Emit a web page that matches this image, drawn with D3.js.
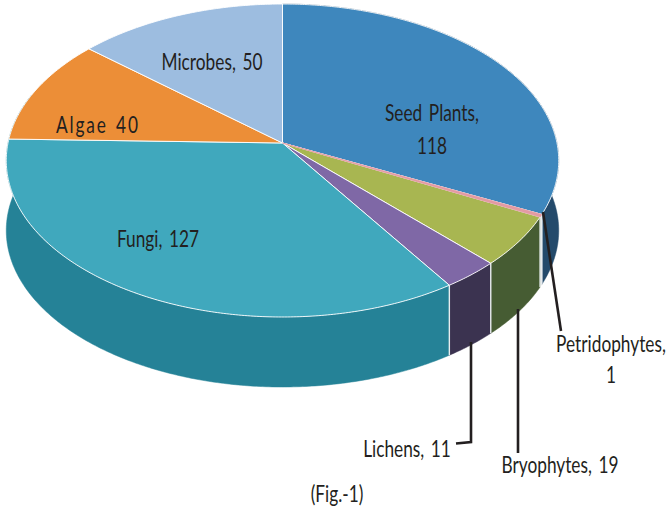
<!DOCTYPE html>
<html><head><meta charset="utf-8">
<script src="https://cdn.jsdelivr.net/npm/d3@7/dist/d3.min.js"></script>
<style>html,body{margin:0;padding:0;background:#fff}svg{display:block}
text{font-family:Lato,"Noto Sans",sans-serif;fill:#231f20;text-anchor:middle;word-spacing:3px}</style>
</head><body><div id="c"></div>
<script>
const categories = ["Seed Plants","Petridophytes","Bryophytes","Lichens","Fungi","Algae","Microbes"];
const values = [118,1,19,11,127,40,50];
const topColors = ["#3e87bd","#e39aa3","#a8b651","#7f68a6","#40a8bd","#ec8e37","#9dbde0"];
const wallColors = ["#244a6b","#e6e6e6","#465c33","#3b3350","#258297"];
const labelLines = [["Seed Plants,","118"],["Petridophytes,","1"],["Bryophytes, 19"],["Lichens, 11"],["Fungi, 127"],["Algae 40"],["Microbes, 50"]];
const caption = "(Fig.-1)";

const W=667,H=512;
const svg=d3.select("#c").append("svg").attr("width",W).attr("height",H);
const arcs=d3.pie().sort(null).value(d=>d)(values);

const cx=282.5, k=274.5, c=-35/313, a=174*(1+c);
function project(angle, cy, shrink){
  const u=Math.sin(angle), v=-Math.cos(angle), d=1+c*v;
  return [cx+k*shrink*u/d, cy+a*shrink*v/d];
}
function arcPts(s,e,cy,shrink){
  const n=Math.max(2,Math.ceil((e-s)/0.01));
  return d3.range(n+1).map(i=>project(s+(e-s)*i/n,cy,shrink));
}
const line=d3.line();
const topY=143, botY=213, botShrink=1;

const walls=svg.append("g");
const wrap=0.3;
arcs.slice(0,wallColors.length).forEach((d,i)=>{
  const end=d.endAngle+(i===wallColors.length-1?wrap:0);
  const t=arcPts(d.startAngle,end,topY,1);
  const b=arcPts(d.startAngle,end,botY,botShrink).reverse();
  walls.append("path").attr("d",line(t.concat(b))+"Z")
    .attr("fill",wallColors[i]).attr("stroke",wallColors[i]).attr("stroke-width",0.5);
});
arcs.forEach(d=>{
  const s=d.startAngle;
  if(s>1.5 && s<Math.PI*1.4){
    walls.append("path").attr("d",line([project(s,topY,1),project(s,botY,botShrink)]))
      .attr("stroke","#e9edef").attr("stroke-width",1.4).attr("fill","none");
  }
});
const face=svg.append("g");
arcs.forEach((d,i)=>{
  const pts=[[cx,topY]].concat(arcPts(d.startAngle,d.endAngle,topY,1));
  face.append("path").attr("d",line(pts)+"Z").attr("fill",topColors[i])
    .attr("stroke","#fff").attr("stroke-width",0.9).attr("stroke-linejoin","round");
});
// the thinnest slice goes on top so the neighbouring outlines do not swallow it
{
  const d=arcs[1];
  const pts=[[cx,topY]].concat(arcPts(d.startAngle,d.endAngle,topY,1));
  face.append("path").attr("d",line(pts)+"Z").attr("fill",topColors[1])
    .attr("stroke",topColors[1]).attr("stroke-width",0.8);
}
const leaders=svg.append("g").attr("fill","none").attr("stroke","#231f20").attr("stroke-width",2.6);
leaders.append("path").attr("d","M543,212L561,331");
leaders.append("path").attr("d","M518,309V453");
leaders.append("path").attr("d","M471,342V442L456,443.5");

const sx=0.72, fs=24;
function label(lines,x,y,dy,len){
  lines.forEach((s,i)=>{
    const t=svg.append("text").attr("transform",`translate(${x},${y+i*dy}) scale(${sx},1)`)
      .attr("font-size",fs).text(s);
    if(len) t.attr("textLength",len/sx).attr("lengthAdjust","spacing");
  });
}
label(labelLines[0],432,121,33);
label(labelLines[1],611,352,31);
label(labelLines[2],560,473,0);
label(labelLines[3],407,457,0);
label(labelLines[4],158,247,0);
label(labelLines[5],97,133,0,82);
label(labelLines[6],212,70,0);
label([caption],337,502,0);
</script></body></html>
